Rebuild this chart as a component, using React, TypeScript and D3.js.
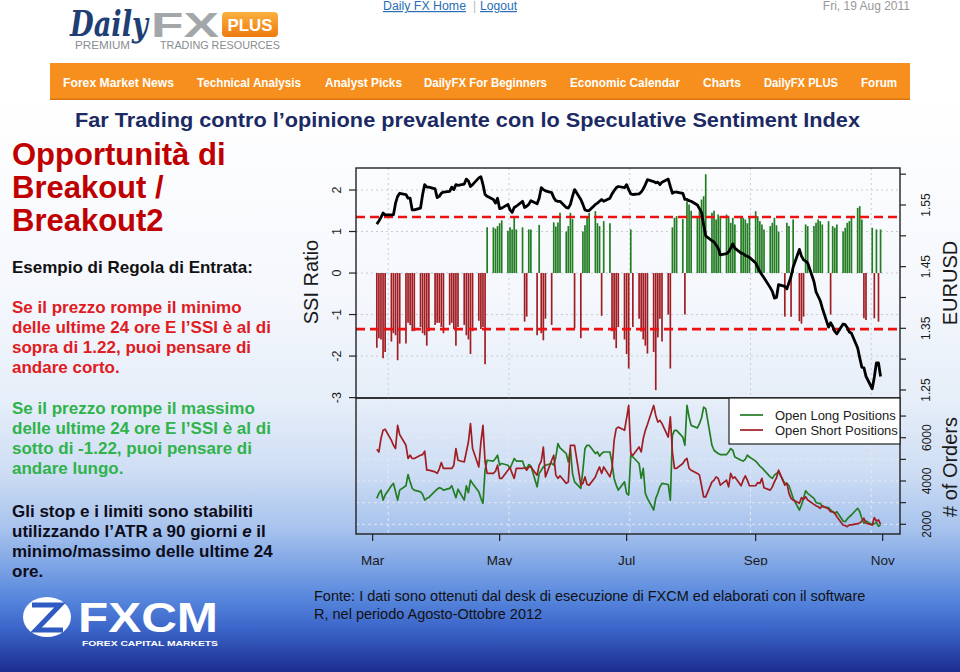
import React from "react";
import * as d3 from "d3";

const FONT = "'Liberation Sans', Arial, Helvetica, sans-serif";

// ---------- DATA ----------
const FIRST_DAY = "2008-03-03";
const LAST_DAY = "2008-10-31";

// SSI ratio, one value per trading day (weeks of 5)
const SSI = [
  -1.8, -1.57, -1.6, -2.05, -1.9,
  -1.65, -1.45, -1.5, -2.1, -1.7,
  -1.7, -1.2, -1.25, -1.4, -1.4,
  -1.3, -1.45, -1.5, -1.75, -1.4,
  -1.25, -1.2, -1.2, -1.3, -1.45,
  -1.25, -1.2, -1.35, -1.75, -1.3,
  -1.25, -1.5, -1.6, -1.95, -1.4,
  -1.15, -1.35, -1.3, -2.2, 1.1,
  1.1, 1.07, 1.13, 1.2, 1.27,
  1.02, 1.1, 1.05, 1.33, 1.05,
  1.1, -1.17, -1.05, 1.05, 1.05,
  -1.5, 1.16, -1.45, -1.62, -1.1,
  -1.25, 1.22, 1.12, 1.22, 1.45,
  1.0, 1.13, 1.45, 1.3, -1.33,
  -1.57, 1.0, 1.15, 1.37, 1.45,
  1.49, 1.2, 1.13, -1.03, 1.25,
  1.2, -1.4, -1.6, -1.81, -1.3,
  -1.6, -1.95, -2.3, 1.05, -1.3,
  -1.1, -1.41, -1.6, -1.75, -1.94,
  -1.9, -2.82, -1.55, -1.1, -1.65,
  -1.0, -2.3, 1.1, 1.33, 1.37,
  1.3, -1.0, 1.73, 1.65, 1.5,
  1.37, 1.49, 1.77, 1.85, 2.38,
  1.45, 1.5, 1.29, 1.41, 1.37,
  1.41, 1.37, 1.21, 1.33, 1.17,
  1.37, 1.33, 1.29, 1.2, 1.37,
  1.49, 1.37, 1.25, 1.17, 1.05,
  1.13, 1.21, 1.33, 1.15, 1.0,
  -1.05, 1.21, 1.13, -1.05, 1.29,
  -1.16, -1.22, -1.05, 1.17, 1.13,
  1.13, 1.21, 1.29, 1.25, 1.17,
  1.25, -1.0, 1.13, 1.09, 1.17,
  1.0, 1.09, 1.21, 1.25, 1.37,
  1.57, 1.61, 1.29, -1.09, -1.13,
  1.09, -1.09, 1.05, -1.17, 1.05,
];

const EURUSD = [
  1.519, 1.524, 1.53, 1.537, 1.534,
  1.534, 1.534, 1.553, 1.564, 1.569,
  1.567, 1.561, 1.561, 1.542, 1.542,
  1.545, 1.567, 1.583, 1.579, 1.579,
  1.576, 1.562, 1.564, 1.569, 1.571,
  1.572, 1.579, 1.575, 1.583, 1.582,
  1.584, 1.592, 1.589, 1.58, 1.583,
  1.594, 1.596, 1.583, 1.567, 1.564,
  1.559, 1.553, 1.561, 1.544, 1.545,
  1.551, 1.542, 1.538, 1.546, 1.548,
  1.556, 1.546, 1.548, 1.551, 1.557,
  1.552, 1.561, 1.578, 1.575, 1.573,
  1.57, 1.562, 1.557, 1.556, 1.556,
  1.546, 1.545, 1.551, 1.564, 1.575,
  1.559, 1.551, 1.542, 1.541, 1.541,
  1.551, 1.553, 1.556, 1.559, 1.556,
  1.561, 1.568, 1.573, 1.578, 1.58,
  1.578, 1.583, 1.575, 1.568, 1.567,
  1.568, 1.571, 1.576, 1.583, 1.591,
  1.588, 1.586, 1.587, 1.583, 1.587,
  1.592, 1.58, 1.569, 1.571, 1.571,
  1.569, 1.559, 1.559, 1.557, 1.556,
  1.55, 1.544, 1.538, 1.518, 1.5,
  1.492, 1.49, 1.485, 1.48, 1.469,
  1.471, 1.474, 1.48, 1.487, 1.48,
  1.472, 1.471, 1.468, 1.467, 1.465,
  1.456, 1.449, 1.442, 1.437, 1.432,
  1.416, 1.41, 1.399, 1.4, 1.421,
  1.418, 1.414, 1.424, 1.434, 1.449,
  1.478, 1.467, 1.461, 1.459, 1.456,
  1.426, 1.409, 1.402, 1.395, 1.383,
  1.352, 1.359, 1.353, 1.345, 1.341,
  1.357, 1.356, 1.351, 1.344, 1.342,
  1.318, 1.302, 1.287, 1.286, 1.272,
  1.252, 1.271, 1.294, 1.294, 1.272,
];

const LONG_POSITIONS = [
  3200, 3430, 3580, 3120, 3350,
  3780, 3890, 3500, 3120, 3580,
  3780, 4300, 3960, 3660, 3580,
  3500, 3380, 3120, 3200, 3240,
  3530, 3620, 3690, 3660, 3580,
  3660, 3780, 3500, 3230, 3620,
  3120, 3780, 3460, 4040, 3890,
  3500, 3200, 2970, 4500, 4960,
  4920, 5040, 5190, 4730, 4810,
  4730, 4580, 4810, 5040, 4920,
  4920, 4650, 4580, 4760, 4700,
  3730, 4350, 4500, 4650, 4730,
  4810, 4730, 5110, 5730, 5530,
  5270, 4880, 5500, 4350, 3960,
  3660, 4500, 5500, 5650, 5650,
  5270, 5340, 5150, 5270, 5340,
  5340, 4810, 4120, 3810, 3580,
  3960, 3430, 3350, 5190, 5110,
  4810, 4120, 4580, 3430, 3200,
  2660, 3200, 3430, 3730, 3890,
  3840, 3120, 6110, 6340, 6340,
  6030, 5650, 7490, 6960, 6570,
  6450, 6650, 6910, 7410, 7340,
  5650, 5420, 5340, 5270, 5220,
  5220, 5340, 5500, 5420, 5110,
  4960, 4920, 5000, 5190, 5110,
  4920, 4810, 4690, 4610, 4500,
  4190, 4120, 4270, 4350, 4420,
  3890, 3890, 3780, 3500, 3200,
  2660, 2890, 3200, 3550, 3430,
  3200, 3010, 2970, 2970, 2810,
  2770, 2660, 2580, 2510, 2580,
  2150, 2120, 2250, 2350, 2430,
  2740, 2580, 2280, 2050, 2150,
  1970, 2030, 2090, 1910, 1970,
];

const SHORT_POSITIONS = [
  5470, 5340, 5960, 6340, 6390,
  5880, 5650, 5500, 6570, 6140,
  5650, 5040, 5190, 5040, 5040,
  5190, 5220, 5380, 4500, 4500,
  4420, 4350, 4550, 4850, 4580,
  4580, 4580, 4730, 5500, 4960,
  4880, 5340, 5800, 6650, 5500,
  4650, 5800, 6570, 4880, 4350,
  4350, 4450, 4730, 4120, 4120,
  4500, 4620, 4350, 4120, 4580,
  4580, 4610, 4500, 4650, 4650,
  4270, 4730, 4920, 5570, 4190,
  4960, 5190, 4270, 4120, 4240,
  3890, 3960, 5650, 5650, 5650,
  3810, 3890, 4190, 3840, 3810,
  4190, 4450, 4650, 4350, 4650,
  4190, 4580, 5880, 6420, 6490,
  6340, 6900, 7490, 5270, 5190,
  5570, 5340, 5960, 6340, 6610,
  7490, 7030, 6720, 6800, 6650,
  6030, 6960, 5340, 4580, 4580,
  4810, 4960, 5040, 4580, 4500,
  4350, 4270, 3780, 3270, 3270,
  3960, 4040, 4190, 4120, 3810,
  4040, 3730, 4350, 4120, 4190,
  3780, 4040, 4240, 4040, 3780,
  3780, 3930, 3890, 4120, 3690,
  3580, 3730, 3960, 4150, 4500,
  3810, 3890, 3430, 3200, 3120,
  2970, 3230, 3150, 3270, 3120,
  2920, 2860, 2810, 2740, 2860,
  2710, 2580, 2580, 2510, 2350,
  1970, 1940, 1890, 1970, 1970,
  2030, 2060, 2150, 2280, 2050,
  1970, 2310, 2150, 2200, 2000,
];

const SSI_THRESHOLDS = [1.35, -1.35];
const SSI_TICKS = [-3, -2, -1, 0, 1, 2];
const SSI_GRID = [-2, -1, 0, 1, 2];
const EUR_TICKS = [1.25, 1.3, 1.35, 1.4, 1.45, 1.5, 1.55, 1.6];
const EUR_LABELS = ["1.25", "1.35", "1.45", "1.55"];
const ORDER_TICKS = [2000, 3000, 4000, 5000, 6000, 7000];
const ORDER_LABELS = [2000, 4000, 6000];
const MONTH_TICKS = ["2008-03-01", "2008-05-01", "2008-07-01", "2008-09-01", "2008-11-01"];
const MONTH_LABELS = ["Mar", "May", "Jul", "Sep", "Nov"];
const GRID_DATES = ["2008-03-08T12:00:00Z", "2008-05-05T12:00:00Z", "2008-07-02T12:00:00Z", "2008-08-29T12:00:00Z", "2008-10-26T12:00:00Z"];
const LEGEND_LABELS = ["Open Long Positions", "Open Short Positions"];

const NAV_ITEMS = ["Forex Market News", "Technical Analysis", "Analyst Picks", "DailyFX For Beginners", "Economic Calendar", "Charts", "DailyFX PLUS", "Forum"];
const NAV_X = [63, 197, 325, 424, 570, 703, 764, 861];
const NAV_W = [111, 104, 77, 123, 110, 38, 74, 36];

const TITLE = "Far Trading contro l’opinione prevalente con lo Speculative Sentiment Index";
const HEAD_LINES = ["Opportunità di", "Breakout /", "Breakout2"];
const RED_LINES = ["Se il prezzo rompe il minimo", "delle ultime 24 ore E l’SSI è al di", "sopra di 1.22, puoi pensare di", "andare corto."];
const GREEN_LINES = ["Se il prezzo rompe il massimo", "delle ultime 24 ore E l’SSI è al di", "sotto di -1.22, puoi pensare di", "andare lungo."];
const FOOTNOTE = ["Fonte: I dati sono ottenuti dal desk di esecuzione di FXCM ed elaborati con il software", "R, nel periodo Agosto-Ottobre 2012"];

// ---------- LAYOUT ----------
const PL = 356, PR = 900;
const T_TOP = 168, T_BOT = 398, B_TOP = 398, B_BOT = 534;
const GREEN = "#237d23";
const RED = "#a11d22";
const GRID = "#c9ccd4";

export default function App() {
  const days = d3
    .utcDay.range(new Date(FIRST_DAY + "T00:00:00Z"), d3.utcDay.offset(new Date(LAST_DAY + "T00:00:00Z"), 1))
    .filter((d) => d.getUTCDay() % 6 !== 0);
  const n = Math.min(days.length, SSI.length);

  const x = d3.scaleUtc().domain([new Date(Date.UTC(2008, 1, 22)), new Date(Date.UTC(2008, 10, 9, 8))]).range([PL, PR]);
  const yS = d3.scaleLinear().domain([-3.01, 2.53]).range([T_BOT, T_TOP]);
  const yE = d3.scaleLinear().domain([1.237, 1.61]).range([T_BOT, T_TOP]);
  const yO = d3.scaleLinear().domain([1552, 7834]).range([B_BOT, B_TOP]);

  const idx = d3.range(n);
  const eurLine = d3.line<number>().x((i) => x(days[i])).y((i) => yE(EURUSD[i]))(idx) || "";
  const longLine = d3.line<number>().x((i) => x(days[i])).y((i) => yO(LONG_POSITIONS[i]))(idx) || "";
  const shortLine = d3.line<number>().x((i) => x(days[i])).y((i) => yO(SHORT_POSITIONS[i]))(idx) || "";

  const textCol = "#1a1a1a";

  return (
    <svg width={960} height={672} style={{ position: "absolute", left: 0, top: 0, display: "block" }} fontFamily={FONT}>
      <defs>
        <linearGradient id="bg" x1="0" y1="0" x2="0" y2="1">
          <stop offset="0" stopColor="#ffffff" />
          <stop offset="0.35" stopColor="#f4f7fc" />
          <stop offset="0.525" stopColor="#e6eef9" />
          <stop offset="0.647" stopColor="#cfdef4" />
          <stop offset="0.752" stopColor="#a6c2ed" />
          <stop offset="0.813" stopColor="#7ea5e5" />
          <stop offset="0.874" stopColor="#5585dc" />
          <stop offset="0.927" stopColor="#3a63c8" />
          <stop offset="1" stopColor="#1b2d8e" />
        </linearGradient>
        <linearGradient id="plus" x1="0" y1="0" x2="0" y2="1">
          <stop offset="0" stopColor="#fbb040" />
          <stop offset="1" stopColor="#ee7a0e" />
        </linearGradient>
        <clipPath id="clipTop">
          <rect x={PL} y={T_TOP} width={PR - PL} height={T_BOT - T_TOP} />
        </clipPath>
        <clipPath id="clipBot">
          <rect x={PL} y={B_TOP} width={PR - PL} height={B_BOT - B_TOP} />
        </clipPath>
        <clipPath id="clipMonths">
          <rect x={300} y={540} width={640} height={25.5} />
        </clipPath>
      </defs>

      {/* page background */}
      <rect x={0} y={0} width={960} height={672} fill="#ffffff" />
      <rect x={0} y={100} width={960} height={572} fill="url(#bg)" />

      {/* header logo */}
      <text x={70} y={36} fontFamily="'DejaVu Serif', serif" fontStyle="italic" fontWeight="bold" fontSize={36} fill="#1e3e74" textLength={78} lengthAdjust="spacingAndGlyphs">Daily</text>
      <text x={151} y={37} fontWeight="bold" fontSize={35} fill="#a4a7aa" textLength={68} lengthAdjust="spacingAndGlyphs">FX</text>
      <rect x={222} y={12} width={56} height={25} rx={4} fill="url(#plus)" />
      <text x={250} y={31} textAnchor="middle" fontWeight="bold" fontSize={17} fill="#ffffff" textLength={45} lengthAdjust="spacingAndGlyphs">PLUS</text>
      <text x={75} y={49} fontSize={10} fill="#8a8d90" textLength={55} lengthAdjust="spacingAndGlyphs">PREMIUM</text>
      <text x={160} y={49} fontSize={10.5} fill="#8a8d90" textLength={120} lengthAdjust="spacingAndGlyphs">TRADING RESOURCES</text>

      <text x={383} y={10} fontSize={12} fill="#2a6db5" textDecoration="underline" textLength={83} lengthAdjust="spacingAndGlyphs">Daily FX Home</text>
      <text x={473} y={10} fontSize={12} fill="#bbbbbb">|</text>
      <text x={480} y={10} fontSize={12} fill="#2a6db5" textDecoration="underline" textLength={37} lengthAdjust="spacingAndGlyphs">Logout</text>
      <text x={910} y={10} textAnchor="end" fontSize={12} fill="#999999">Fri, 19 Aug 2011</text>

      {/* orange nav bar */}
      <rect x={50} y={63} width={860} height={37} fill="#f78f1e" />
      <rect x={50} y={98.5} width={860} height={1.5} fill="#d9760f" />
      {NAV_ITEMS.map((t, i) => (
        <text key={t} x={NAV_X[i]} y={87} fontWeight="bold" fontSize={12.5} fill="#ffffff" textLength={NAV_W[i]} lengthAdjust="spacingAndGlyphs">{t}</text>
      ))}

      {/* title */}
      <text x={75} y={127} fontWeight="bold" fontSize={20.5} fill="#1b2a63" textLength={785} lengthAdjust="spacingAndGlyphs">{TITLE}</text>

      {/* left column */}
      {HEAD_LINES.map((t, i) => (
        <text key={t} x={12} y={165 + i * 33} fontWeight="bold" fontSize={31} fill="#c00000">{t}</text>
      ))}
      <text x={12} y={273} fontWeight="bold" fontSize={17} fill="#111111">Esempio di Regola di Entrata:</text>
      {RED_LINES.map((t, i) => (
        <text key={"r" + i} x={12} y={313 + i * 20} fontWeight="bold" fontSize={17} fill="#e01b22">{t}</text>
      ))}
      {GREEN_LINES.map((t, i) => (
        <text key={"g" + i} x={12} y={414 + i * 20} fontWeight="bold" fontSize={17} fill="#2fb34a">{t}</text>
      ))}
      <g fontWeight="bold" fontSize={17} fill="#0d0d1a">
        <text x={12} y={517}>Gli stop e i limiti sono stabiliti</text>
        <text x={12} y={537}>utilizzando l’ATR a 90 giorni <tspan fontStyle="italic">e</tspan> il</text>
        <text x={12} y={557}>minimo/massimo delle ultime 24</text>
        <text x={12} y={577}>ore.</text>
      </g>

      {/* FXCM logo */}
      <ellipse cx={47} cy={617} rx={24} ry={20} fill="#ffffff" />
      <path d="M32,605 L60,605 L36,630 L63,630" fill="none" stroke="#2f5ac4" strokeWidth={5} strokeLinejoin="miter" />
      <text x={78} y={632} fontWeight="bold" fontSize={42} fill="#ffffff" textLength={140} lengthAdjust="spacingAndGlyphs">FXCM</text>
      <text x={82} y={646} fontWeight="bold" fontSize={7.5} fill="#ffffff" textLength={136} lengthAdjust="spacingAndGlyphs">FOREX CAPITAL MARKETS</text>

      {/* ---------- top chart ---------- */}
      <g>
        {SSI_GRID.map((v) => (
          <line key={"hg" + v} x1={PL} x2={PR} y1={yS(v)} y2={yS(v)} stroke={GRID} strokeWidth={1} strokeDasharray="2,3" />
        ))}
        {GRID_DATES.map((d) => (
          <line key={"vg" + d} x1={x(new Date(d))} x2={x(new Date(d))} y1={T_TOP} y2={T_BOT} stroke={GRID} strokeWidth={1} strokeDasharray="2,3" />
        ))}
        <g clipPath="url(#clipTop)">
          {idx.map((i) => (
            <line key={"b" + i} x1={x(days[i])} x2={x(days[i])} y1={yS(0)} y2={yS(SSI[i])} stroke={SSI[i] >= 0 ? GREEN : RED} strokeWidth={1.7} />
          ))}
          {SSI_THRESHOLDS.map((v) => (
            <line key={"th" + v} x1={PL} x2={PR} y1={yS(v)} y2={yS(v)} stroke="#ee1111" strokeWidth={2.6} strokeDasharray="9,5" />
          ))}
          <path d={eurLine} fill="none" stroke="#000000" strokeWidth={2.8} strokeLinejoin="round" />
        </g>
        <rect x={PL} y={T_TOP} width={PR - PL} height={T_BOT - T_TOP} fill="none" stroke="#222222" strokeWidth={1.4} />
        {SSI_TICKS.map((v) => (
          <g key={"st" + v}>
            <line x1={PL - 7} x2={PL} y1={yS(v)} y2={yS(v)} stroke="#222222" strokeWidth={1.2} />
            <text transform={`translate(341,${yS(v)}) rotate(-90)`} textAnchor="middle" fontSize={12.5} fill={textCol}>{v}</text>
          </g>
        ))}
        <text transform="translate(318,282) rotate(-90)" textAnchor="middle" fontSize={20} fill={textCol}>SSI Ratio</text>
        {EUR_TICKS.map((v) => (
          <line key={"et" + v} x1={PR} x2={PR + 6} y1={yE(v)} y2={yE(v)} stroke="#222222" strokeWidth={1.2} />
        ))}
        {EUR_LABELS.map((s) => (
          <text key={"el" + s} transform={`translate(930,${yE(+s)}) rotate(-90)`} textAnchor="middle" fontSize={12} fill={textCol}>{s}</text>
        ))}
        <text transform="translate(957,283) rotate(-90)" textAnchor="middle" fontSize={20} fill={textCol}>EURUSD</text>
      </g>

      {/* ---------- bottom chart ---------- */}
      <g>
        {ORDER_TICKS.map((v) => (
          <line key={"og" + v} x1={PL} x2={PR} y1={yO(v)} y2={yO(v)} stroke="#e4e8f2" strokeWidth={1} strokeDasharray="3,3" />
        ))}
        {GRID_DATES.map((d) => (
          <line key={"vb" + d} x1={x(new Date(d))} x2={x(new Date(d))} y1={B_TOP} y2={B_BOT} stroke="#e4e8f2" strokeWidth={1} strokeDasharray="3,3" />
        ))}
        <g clipPath="url(#clipBot)">
          <path d={longLine} fill="none" stroke={GREEN} strokeWidth={1.7} strokeLinejoin="round" />
          <path d={shortLine} fill="none" stroke={RED} strokeWidth={1.7} strokeLinejoin="round" />
        </g>
        <rect x={PL} y={B_TOP} width={PR - PL} height={B_BOT - B_TOP} fill="none" stroke="#222222" strokeWidth={1.4} />
        {MONTH_TICKS.map((d) => (
          <line key={"mt" + d} x1={x(new Date(d + "T00:00:00Z"))} x2={x(new Date(d + "T00:00:00Z"))} y1={B_BOT} y2={B_BOT + 7} stroke="#222222" strokeWidth={1.2} />
        ))}
        <g clipPath="url(#clipMonths)">
          {MONTH_TICKS.map((d, i) => (
            <text key={"ml" + d} x={x(new Date(d + "T00:00:00Z"))} y={565} textAnchor="middle" fontSize={13.5} fill={textCol}>{MONTH_LABELS[i]}</text>
          ))}
        </g>
        {ORDER_TICKS.map((v) => (
          <line key={"ot" + v} x1={PR} x2={PR + 6} y1={yO(v)} y2={yO(v)} stroke="#222222" strokeWidth={1.2} />
        ))}
        {ORDER_LABELS.map((v) => (
          <text key={"ol" + v} transform={`translate(931,${yO(v)}) rotate(-90)`} textAnchor="middle" fontSize={12} fill={textCol}>{v}</text>
        ))}
        <text transform="translate(957,467) rotate(-90)" textAnchor="middle" fontSize={20} fill={textCol}># of Orders</text>

        {/* legend */}
        <rect x={729} y={B_TOP} width={PR - 729} height={46} fill="#ffffff" stroke="#222222" strokeWidth={1.2} />
        {LEGEND_LABELS.map((t, i) => (
          <g key={t}>
            <line x1={740} x2={763} y1={415 + i * 15} y2={415 + i * 15} stroke={i === 0 ? GREEN : RED} strokeWidth={1.7} />
            <text x={775} y={420 + i * 15} fontSize={13} fill={textCol}>{t}</text>
          </g>
        ))}
      </g>

      {/* footnote */}
      {FOOTNOTE.map((t, i) => (
        <text key={"f" + i} x={314} y={601 + i * 18} fontSize={14.5} fill="#111111">{t}</text>
      ))}
    </svg>
  );
}
